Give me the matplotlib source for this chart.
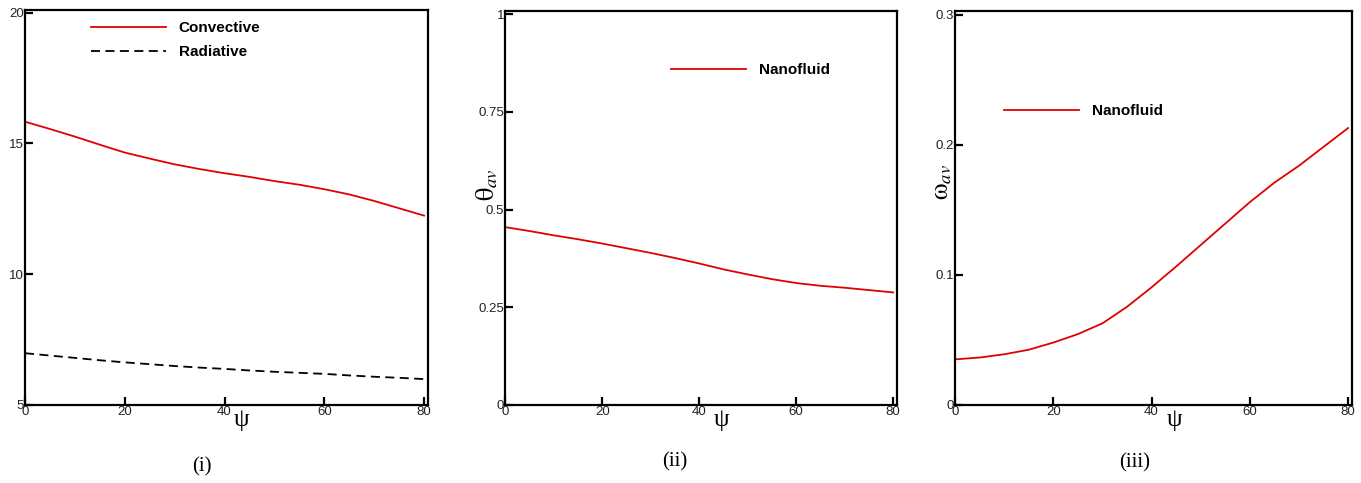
import numpy as np
import matplotlib
matplotlib.use("Agg")
import matplotlib.pyplot as plt

plt.rcParams['mathtext.fontset'] = 'stix'

# data
psi = [0, 5, 10, 15, 20, 25, 30, 35, 40, 45, 50, 55, 60, 65, 70, 75, 80]
convective = [15.83, 15.55, 15.26, 14.95, 14.65, 14.42, 14.2, 14.02, 13.86,
	13.72, 13.56, 13.42, 13.25, 13.05, 12.8, 12.52, 12.24]
radiative = [6.98, 6.89, 6.8, 6.71, 6.63, 6.56, 6.49, 6.43, 6.38,
	6.32, 6.27, 6.23, 6.19, 6.13, 6.08, 6.04, 5.99]
theta_av = [0.455, 0.445, 0.434, 0.424, 0.413, 0.401, 0.389, 0.376, 0.362,
	0.347, 0.334, 0.322, 0.312, 0.305, 0.300, 0.294, 0.288]
omega_av = [0.0351, 0.0365, 0.039, 0.0425, 0.048, 0.0545, 0.0628, 0.0755, 0.0905,
	0.1065, 0.123, 0.1395, 0.156, 0.171, 0.184, 0.1985, 0.213]

xticks = [0, 20, 40, 60, 80]
yticks1 = [5, 10, 15, 20]
yticks2 = [0, 0.25, 0.5, 0.75, 1]
yticks3 = [0, 0.1, 0.2, 0.3]
ylabels2 = ['0', '0.25', '0.5', '0.75', '1']
ylabels3 = ['0', '0.1', '0.2', '0.3']

red = '#e00000'
tickfont = 'Liberation Sans'
serif = 'Liberation Serif'

fig = plt.figure(figsize=(13.61, 4.83), dpi=100)

def style_axes(ax, ylim, yticks, ylabels=None):
	ax.set_xlim(0, 80.8)
	ax.set_ylim(*ylim)
	ax.set_xticks(xticks)
	ax.set_yticks(yticks)
	if ylabels is not None:
		ax.set_yticklabels(ylabels)
	for s in ax.spines.values():
		s.set_linewidth(1.6)
	ax.tick_params(direction='in', length=6, width=1.6, pad=1, labelsize=9.5)
	for lab in ax.get_xticklabels() + ax.get_yticklabels():
		lab.set_fontfamily(tickfont)
		lab.set_color('#222222')

def bold_legend(ax, x, y):
	leg = ax.legend(loc='upper left', bbox_to_anchor=(x, y), frameon=False,
		handlelength=4.9, handletextpad=0.85, labelspacing=0.65,
		borderpad=0, borderaxespad=0,
		prop={'family': 'Liberation Sans', 'weight': 'bold', 'size': 11})
	return leg

def psi_label(ax, x):
	ax.text(x, -0.038, 'ψ', transform=ax.transAxes, ha='center', va='center',
		family=serif, fontsize=18)

# panel (i)
ax1 = fig.add_axes([0.0184, 0.1615, 0.2961, 0.8178])
ax1.plot(psi, convective, color=red, lw=1.3, label='Convective')
ax1.plot(psi, radiative, color='black', lw=1.3, dashes=(5, 3), label='Radiative')
style_axes(ax1, (5, 20.1), yticks1)
bold_legend(ax1, 0.163, 0.972)
psi_label(ax1, 0.536)
fig.text(202 / 1361, 1 - 467 / 483, '(i)', ha='center', va='center', family=serif, fontsize=15)

# panel (ii)
ax2 = fig.add_axes([0.3714, 0.1615, 0.2877, 0.8157])
ax2.plot(psi, theta_av, color=red, lw=1.3, label='Nanofluid')
style_axes(ax2, (0, 1.008), yticks2, ylabels2)
bold_legend(ax2, 0.423, 0.867)
ax2.text(-0.047, 0.558, r'$\mathrm{\theta}_{av}$', transform=ax2.transAxes,
	rotation=90, ha='center', va='center', fontsize=19)
psi_label(ax2, 0.552)
fig.text(675 / 1361, 1 - 462 / 483, '(ii)', ha='center', va='center', family=serif, fontsize=15)

# panel (iii)
ax3 = fig.add_axes([0.7017, 0.1615, 0.2917, 0.8157])
ax3.plot(psi, omega_av, color=red, lw=1.3, label='Nanofluid')
style_axes(ax3, (0, 0.303), yticks3, ylabels3)
bold_legend(ax3, 0.123, 0.764)
ax3.text(-0.035, 0.566, r'$\mathrm{\omega}_{av}$', transform=ax3.transAxes,
	rotation=90, ha='center', va='center', fontsize=19)
psi_label(ax3, 0.552)
fig.text(1135 / 1361, 1 - 463 / 483, '(iii)', ha='center', va='center', family=serif, fontsize=15)

fig.savefig('out.png', dpi=100)
